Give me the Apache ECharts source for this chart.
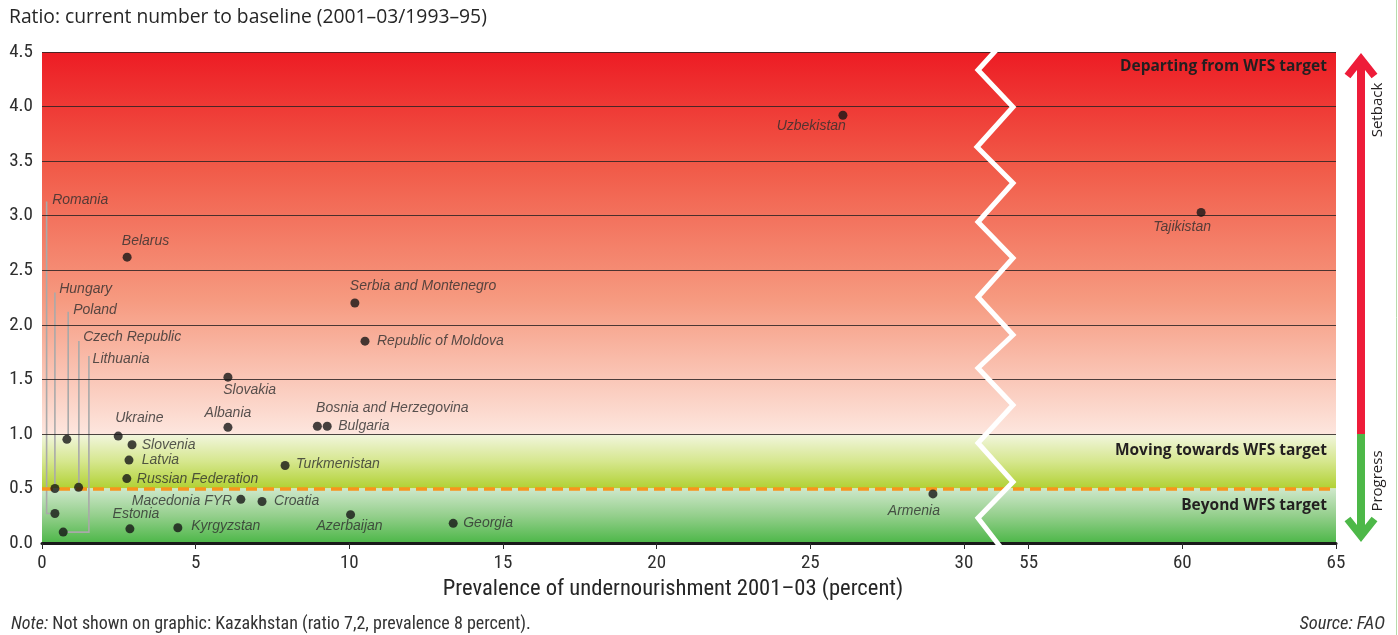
<!DOCTYPE html>
<html>
<head>
<meta charset="utf-8">
<title>Ratio: current number to baseline</title>
<script src="https://cdn.jsdelivr.net/npm/echarts@6/dist/echarts.min.js"></script>
<style>
  html, body { margin: 0; padding: 0; background: #ffffff; }
  #chart { width: 1398px; height: 635px; }
</style>
</head>
<body>
<div id="chart"></div>
<script>
// ---- data -------------------------------------------------------------
const countries = [
  'Uzbekistan', 'Tajikistan', 'Romania', 'Hungary', 'Poland', 'Czech Republic',
  'Lithuania', 'Belarus', 'Serbia and Montenegro', 'Republic of Moldova',
  'Slovakia', 'Albania', 'Ukraine', 'Slovenia', 'Latvia', 'Russian Federation',
  'Turkmenistan', 'Macedonia FYR', 'Croatia', 'Estonia', 'Kyrgyzstan',
  'Azerbaijan', 'Georgia', 'Bosnia and Herzegovina', 'Bulgaria', 'Armenia'
];
// prevalence of undernourishment 2001-03 (percent)
const prevalence = [
  26.06, 60.61, 0.42, 0.42, 0.81, 1.19,
  0.69, 2.77, 10.18, 10.51,
  6.05, 6.05, 2.48, 2.93, 2.83, 2.76,
  7.91, 6.47, 7.16, 2.86, 4.42,
  10.04, 13.38, 8.96, 9.28, 28.99
];
// ratio of current number to baseline (2001-03 / 1993-95)
const ratio = [
  3.92, 3.03, 0.27, 0.50, 0.95, 0.51,
  0.10, 2.62, 2.20, 1.85,
  1.52, 1.06, 0.98, 0.90, 0.76, 0.59,
  0.71, 0.40, 0.38, 0.13, 0.14,
  0.26, 0.18, 1.07, 1.07, 0.45
];
const yTicks = [0, 0.5, 1, 1.5, 2, 2.5, 3, 3.5, 4, 4.5];
const xTicksLow = [0, 5, 10, 15, 20, 25, 30];
const xTicksHigh = [55, 60, 65];
const wfsTarget = 0.5;      // halving the number of undernourished
const baseline = 1.0;       // no change from 1993-95
const yMax = 4.5;

// ---- layout -----------------------------------------------------------
const PLOT_LEFT = 42, PLOT_TOP = 52, PLOT_H = 491;
const PX_PER_UNIT = 30.733;
const SPLIT_X = 996, PLOT_RIGHT = 1336;
const lowMax = (SPLIT_X - PLOT_LEFT) / PX_PER_UNIT;
const highMin = 65 - (PLOT_RIGHT - SPLIT_X) / PX_PER_UNIT;

// label placement per country: [align, dx, dy] from the dot centre
const labelLayout = {
  'Uzbekistan': ['right', 3, 11],
  'Tajikistan': ['right', 10, 15],
  'Romania': ['left', -2.7, -313],
  'Hungary': ['left', 4.3, -199],
  'Poland': ['left', 6.3, -129],
  'Czech Republic': ['left', 4.6, -150],
  'Lithuania': ['left', 29.4, -173],
  'Belarus': ['left', -5.3, -15.7],
  'Serbia and Montenegro': ['left', -5, -17],
  'Republic of Moldova': ['left', 12, 0],
  'Slovakia': ['left', -4.7, 12.7],
  'Albania': ['center', 0, -14.7],
  'Ukraine': ['left', -3, -18],
  'Slovenia': ['left', 9.7, 0],
  'Latvia': ['left', 12.7, 0],
  'Russian Federation': ['left', 10, 0],
  'Turkmenistan': ['left', 11, -1],
  'Macedonia FYR': ['right', -8.7, 2],
  'Croatia': ['left', 12, 0],
  'Estonia': ['left', -17.3, -14.4],
  'Kyrgyzstan': ['left', 13.3, -1.6],
  'Azerbaijan': ['center', -1, 11.7],
  'Georgia': ['left', 10, 0],
  'Bosnia and Herzegovina': ['left', -1.3, -18.4],
  'Bulgaria': ['left', 11, 0],
  'Armenia': ['right', 7, 17]
};
// leader lines for the crowded low-prevalence corner: polyline offsets from the dot
const leaderLayout = {
  'Romania': [[-8.3, -312], [-8.3, 0], [-4, 0]],
  'Hungary': [[0, -196], [0, -4]],
  'Poland': [[1.3, -127.6], [1.3, -4]],
  'Czech Republic': [[0.3, -146.3], [0.3, -4]],
  'Lithuania': [[25.7, -176], [25.7, 0], [4, 0]]
};

const TICK_FONT = '"Liberation Sans Narrow", "Roboto Condensed", "Liberation Sans", sans-serif';
const TEXT_FONT = '"Open Sans", "Noto Sans", sans-serif';
const LABEL_FONT = '"Liberation Sans", Arial, sans-serif';

function pointItem(i) {
  const lay = labelLayout[countries[i]];
  return {
    name: countries[i],
    value: [prevalence[i], ratio[i]],
    label: {
      show: true,
      position: 'inside',
      align: lay[0],
      verticalAlign: 'middle',
      offset: [lay[1], lay[2]],
      formatter: '{b}'
    }
  };
}
const lowPoints = [], highPoints = [], lowLeaders = [];
countries.forEach((c, i) => {
  if (prevalence[i] <= lowMax) lowPoints.push(pointItem(i));
  else highPoints.push(pointItem(i));
  if (leaderLayout[c]) lowLeaders.push({ name: c, value: [prevalence[i], ratio[i]] });
});

// background bands
function vGrad(stops) {
  return { type: 'linear', x: 0, y: 0, x2: 0, y2: 1,
    colorStops: stops.map(s => ({ offset: s[0], color: s[1] })) };
}
const bandSetback = vGrad([[0, '#ED1C24'], [0.3, '#F15A48'], [0.65, '#F69A80'], [1, '#FDE6DE']]);
const bandMoving = vGrad([[0, '#F2F6DF'], [0.5, '#D6E78F'], [1, '#B1D133']]);
const bandBeyond = vGrad([[0, '#CFE8CB'], [0.5, '#94CF8C'], [1, '#4DB748']]);

const gridLines = yTicks.filter(v => v >= baseline).map(v => ({ yAxis: v }));

function helperSeries(idx) {
  return [{
    type: 'line', xAxisIndex: idx, yAxisIndex: idx, data: [], z: 1, silent: true,
    markArea: {
      silent: true,
      label: { show: false },
      data: [
        [{ yAxis: yMax, itemStyle: { color: bandSetback } }, { yAxis: baseline }],
        [{ yAxis: baseline, itemStyle: { color: bandMoving } }, { yAxis: wfsTarget }],
        [{ yAxis: wfsTarget, itemStyle: { color: bandBeyond } }, { yAxis: 0 }]
      ]
    }
  }, {
    type: 'line', xAxisIndex: idx, yAxisIndex: idx, data: [], z: 2, silent: true,
    markLine: {
      silent: true, symbol: ['none', 'none'], animation: false,
      label: { show: false },
      lineStyle: { color: 'rgba(45,35,35,0.85)', width: 1, type: 'solid' },
      data: gridLines.concat([{
        yAxis: wfsTarget,
        lineStyle: { color: '#F7941D', width: 3.5, type: [11, 6] }
      }])
    }
  }];
}

function scatterSeries(idx, data) {
  return {
    type: 'scatter', xAxisIndex: idx, yAxisIndex: idx, z: 5,
    symbol: 'circle', symbolSize: 9,
    itemStyle: { color: '#161616' },
    label: {
      color: '#2e2e2e', fontFamily: LABEL_FONT, fontStyle: 'italic', fontSize: 14
    },
    data: data
  };
}

const leaderSeries = {
  type: 'custom', xAxisIndex: 0, yAxisIndex: 0, z: 3, silent: true,
  data: lowLeaders,
  renderItem: function (params, api) {
    const p = api.coord([api.value(0), api.value(1)]);
    const offs = leaderLayout[lowLeaders[params.dataIndex].name];
    return {
      type: 'polyline',
      shape: { points: offs.map(o => [p[0] + o[0], p[1] + o[1]]) },
      style: { stroke: '#a9a9a9', lineWidth: 1.6, fill: null }
    };
  }
};

function xAxisCfg(idx, min, max, ticks) {
  return {
    type: 'value', gridIndex: idx, min: min, max: max, z: 10,
    splitLine: { show: false },
    axisLine: { show: true, onZero: false, lineStyle: { color: '#1a1a1a', width: 3 } },
    axisTick: { show: true, length: 6, customValues: ticks, lineStyle: { color: '#2a2a2a', width: 1 } },
    axisLabel: {
      show: true, customValues: ticks, margin: 11,
      fontFamily: TICK_FONT, fontSize: 19, color: '#2e2e2e'
    }
  };
}
function yAxisCfg(idx, showLabels) {
  return {
    type: 'value', gridIndex: idx, min: 0, max: yMax, interval: 0.5,
    splitLine: { show: false }, axisLine: { show: false }, axisTick: { show: false },
    axisLabel: {
      show: showLabels, margin: 9, fontFamily: TICK_FONT, fontSize: 19, color: '#2e2e2e',
      formatter: v => v.toFixed(1)
    }
  };
}

// zigzag marking the break in the x axis (30 -> 55)
const zigzag = [[998, 48], [978, 70], [1013, 107], [977, 147], [1013, 183], [978, 222],
  [1013, 258], [978, 297], [1013, 335], [978, 368], [1013, 405], [978, 443],
  [1013, 482], [978, 518], [1002, 549]];

const ARROW_X = 1361, ARROW_SPLIT = 434;
const RED = '#EE1C39', GREEN = '#4DB848';

const option = {
  animation: false,
  backgroundColor: '#ffffff',
  grid: [
    { left: PLOT_LEFT, top: PLOT_TOP, width: SPLIT_X - PLOT_LEFT, height: PLOT_H },
    { left: SPLIT_X, top: PLOT_TOP, width: PLOT_RIGHT - SPLIT_X, height: PLOT_H }
  ],
  xAxis: [xAxisCfg(0, 0, lowMax, xTicksLow), xAxisCfg(1, highMin, 65, xTicksHigh)],
  yAxis: [yAxisCfg(0, true), yAxisCfg(1, false)],
  series: [].concat(helperSeries(0), helperSeries(1), [leaderSeries,
    scatterSeries(0, lowPoints), scatterSeries(1, highPoints)]),
  graphic: [
    { type: 'polyline', z: 100, silent: true, shape: { points: zigzag },
      style: { stroke: '#ffffff', lineWidth: 5, fill: null, lineJoin: 'miter' } },
    // title and notes
    { type: 'text', x: 9, y: 18, z: 100, silent: true,
      style: { text: 'Ratio: current number to baseline (2001\u201303/1993\u201395)',
        fontFamily: TEXT_FONT, fontSize: 19.3, fill: '#262626', textVerticalAlign: 'middle' } },
    { type: 'text', x: 673, y: 589, z: 100, silent: true,
      style: { text: 'Prevalence of undernourishment 2001\u201303 (percent)',
        fontFamily: TICK_FONT, fontSize: 22.6, fill: '#262626',
        textAlign: 'center', textVerticalAlign: 'middle' } },
    { type: 'text', x: 11, y: 624, z: 100, silent: true,
      style: { text: '{i|Note:} Not shown on graphic: Kazakhstan (ratio 7,2, prevalence 8 percent).',
        fontFamily: TICK_FONT, fontSize: 18, fill: '#333', textVerticalAlign: 'middle',
        rich: { i: { fontStyle: 'italic', fontFamily: TICK_FONT, fontSize: 18, fill: '#333' } } } },
    { type: 'text', x: 1385, y: 624, z: 100, silent: true,
      style: { text: 'Source: FAO', fontFamily: TICK_FONT, fontSize: 18.5, fontStyle: 'italic',
        fill: '#333', textAlign: 'right', textVerticalAlign: 'middle' } },
    // band captions
    { type: 'text', x: 1327, y: 67, z: 100, silent: true,
      style: { text: 'Departing from WFS target', fontFamily: TEXT_FONT, fontWeight: 'bold',
        fontSize: 15.5, fill: '#231f20', textAlign: 'right', textVerticalAlign: 'middle' } },
    { type: 'text', x: 1327, y: 451, z: 100, silent: true,
      style: { text: 'Moving towards WFS target', fontFamily: TEXT_FONT, fontWeight: 'bold',
        fontSize: 15.5, fill: '#231f20', textAlign: 'right', textVerticalAlign: 'middle' } },
    { type: 'text', x: 1327, y: 506, z: 100, silent: true,
      style: { text: 'Beyond WFS target', fontFamily: TEXT_FONT, fontWeight: 'bold',
        fontSize: 15.5, fill: '#231f20', textAlign: 'right', textVerticalAlign: 'middle' } },
    // setback / progress arrow
    { type: 'line', z: 100, silent: true,
      shape: { x1: ARROW_X, y1: 60, x2: ARROW_X, y2: ARROW_SPLIT },
      style: { stroke: RED, lineWidth: 8 } },
    { type: 'line', z: 100, silent: true,
      shape: { x1: ARROW_X, y1: ARROW_SPLIT, x2: ARROW_X, y2: 536 },
      style: { stroke: GREEN, lineWidth: 8 } },
    { type: 'polyline', z: 101, silent: true,
      shape: { points: [[ARROW_X - 13.5, 76], [ARROW_X, 59], [ARROW_X + 13.5, 76]] },
      style: { stroke: RED, lineWidth: 7.5, fill: null, lineJoin: 'miter', miterLimit: 10 } },
    { type: 'polyline', z: 101, silent: true,
      shape: { points: [[ARROW_X - 13.5, 519], [ARROW_X, 536], [ARROW_X + 13.5, 519]] },
      style: { stroke: GREEN, lineWidth: 7.5, fill: null, lineJoin: 'miter', miterLimit: 10 } },
    { type: 'text', x: 1378, y: 110, rotation: Math.PI / 2, z: 100, silent: true,
      style: { text: 'Setback', fontFamily: TEXT_FONT, fontSize: 15, fill: '#231f20',
        textAlign: 'center', textVerticalAlign: 'middle' } },
    { type: 'text', x: 1378, y: 481, rotation: Math.PI / 2, z: 100, silent: true,
      style: { text: 'Progress', fontFamily: TEXT_FONT, fontSize: 15, fill: '#231f20',
        textAlign: 'center', textVerticalAlign: 'middle' } },
    // thin frame rule on the right
    { type: 'line', z: 100, silent: true,
      shape: { x1: 1396.5, y1: 0, x2: 1396.5, y2: 635 },
      style: { stroke: '#b8dbac', lineWidth: 1 } }
  ]
};

const chart = echarts.init(document.getElementById('chart'), null, { renderer: 'canvas' });
chart.setOption(option);
</script>
</body>
</html>
